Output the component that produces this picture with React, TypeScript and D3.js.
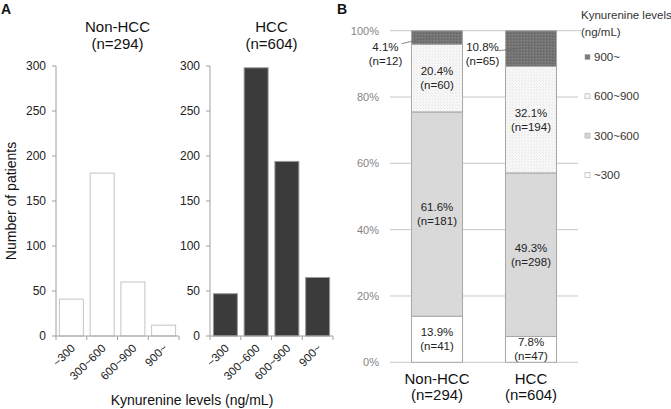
import React from "react";
import * as d3 from "d3";

const categories = ["~300", "300~600", "600~900", "900~"];
const nonHccCounts = [41, 181, 60, 12];
const hccCounts = [47, 298, 194, 65];
const groups = ["Non-HCC", "HCC"];
const groupN = [294, 604];
const nonHccPct = [13.9, 61.6, 20.4, 4.1];
const hccPct = [7.8, 49.3, 32.1, 10.8];
const yTicksA = [0, 50, 100, 150, 200, 250, 300];
const yTicksB = [0, 20, 40, 60, 80, 100];

const FONT = "'Liberation Sans', Arial, Helvetica, sans-serif";

export default function App() {
  const W = 671, H = 409;
  // Panel A
  const yA = d3.scaleLinear().domain([0, 300]).range([336, 66]);
  const panelsA = [
    { title: groups[0], n: groupN[0], counts: nonHccCounts, x0: 56, fill: "#ffffff", stroke: "#c4c4c4" },
    { title: groups[1], n: groupN[1], counts: hccCounts, x0: 210, fill: "#3b3b3b", stroke: "#9a9a9a" },
  ];
  // Panel B
  const yB = d3.scaleLinear().domain([0, 100]).range([362.3, 30.7]);
  const xB = d3.scaleBand().domain(groups).range([390, 578]).paddingInner(0.457).paddingOuter(0.2285);
  const rows = groups.map((g, i) => {
    const vals = i === 0 ? nonHccPct : hccPct;
    const r: any = { group: g };
    categories.forEach((c, j) => (r[c] = vals[j]));
    return r;
  });
  const stacked = d3.stack().keys(categories)(rows);
  const segFill = ["#ffffff", "#d9d9d9", "url(#pLight)", "url(#pDark)"];
  const legendFill = ["#ffffff", "#d4d4d4", "#f6f6f6", "#7a7a7a"];
  const countsByGroup = [nonHccCounts, hccCounts];

  return (
    <svg width={W} height={H} style={{ position: "absolute", left: 0, top: 0, background: "#fff" }} fontFamily={FONT}>
      <defs>
        <pattern id="pDark" width="3" height="3" patternUnits="userSpaceOnUse">
          <rect width="3" height="3" fill="#747474" />
          <rect x="0" y="0" width="1" height="1" fill="#626262" />
          <rect x="2" y="1" width="1" height="1" fill="#868686" />
        </pattern>
        <pattern id="pLight" width="3" height="3" patternUnits="userSpaceOnUse">
          <rect width="3" height="3" fill="#f7f7f7" />
          <rect x="0" y="0" width="1" height="1" fill="#e6e6e6" />
          <rect x="2" y="2" width="1" height="1" fill="#ececec" />
        </pattern>
      </defs>
      <rect width={W} height={H} fill="#fff" />

      {/* Panel labels */}
      <text x={1} y={13.5} fontSize={14} fontWeight="bold" fill="#111">A</text>
      <text x={337} y={13.5} fontSize={14} fontWeight="bold" fill="#111">B</text>

      {/* Panel A */}
      {panelsA.map((p, pi) => {
        const x = d3.scaleBand().domain(categories).range([p.x0, p.x0 + 123]).paddingInner(0.22).paddingOuter(0.11);
        const step = x.step();
        const cx = p.x0 + 61.5;
        return (
          <g key={pi}>
            <text x={cx} y={32} fontSize={15} textAnchor="middle" fill="#111">{p.title}</text>
            <text x={cx} y={48.5} fontSize={15} textAnchor="middle" fill="#111">{`(n=${p.n})`}</text>
            {p.counts.map((v, i) => (
              <rect key={i} x={x(categories[i])!} y={yA(v)} width={x.bandwidth()} height={yA(0) - yA(v)}
                fill={p.fill} stroke={p.stroke} strokeWidth={1} />
            ))}
            <line x1={p.x0} x2={p.x0} y1={yA(300)} y2={yA(0)} stroke="#a0a0a0" />
            <line x1={p.x0} x2={p.x0 + 123} y1={yA(0)} y2={yA(0)} stroke="#a0a0a0" />
            {yTicksA.map((t) => (
              <g key={t}>
                <line x1={p.x0 - 4} x2={p.x0} y1={yA(t)} y2={yA(t)} stroke="#a0a0a0" />
                <text x={p.x0 - 10} y={yA(t)} dy="0.35em" fontSize={12} textAnchor="end" fill="#222">{t}</text>
              </g>
            ))}
            {d3.range(categories.length + 1).map((k) => (
              <line key={k} x1={p.x0 + k * step} x2={p.x0 + k * step} y1={yA(0)} y2={yA(0) + 4} stroke="#a0a0a0" />
            ))}
            {categories.map((c) => {
              const tx = x(c)! + x.bandwidth() / 2 + 1.5;
              return (
                <text key={c} transform={`translate(${tx},${yA(0) + 10}) rotate(-45)`} fontSize={11.5} textAnchor="end" dy="0.35em" fill="#222">{c}</text>
              );
            })}
          </g>
        );
      })}
      <text transform={`translate(16,201) rotate(-90)`} fontSize={14} textAnchor="middle" fill="#111">Number of patients</text>
      <text x={192} y={405} fontSize={14} textAnchor="middle" fill="#111">Kynurenine levels (ng/mL)</text>

      {/* Panel B */}
      {yTicksB.map((t) => (
        <g key={t}>
          <line x1={390} x2={t === 100 ? 581 : 578} y1={yB(t)} y2={yB(t)} stroke="#c8c8c8" />
          <text x={379} y={yB(t)} dy="0.35em" fontSize={11} textAnchor="end" fill="#858585">{`${t}%`}</text>
        </g>
      ))}
      {stacked.map((layer, li) =>
        layer.map((d: any, gi) => (
          <rect key={`${li}-${gi}`} x={xB(groups[gi])!} width={xB.bandwidth()} y={yB(d[1])} height={yB(d[0]) - yB(d[1])}
            fill={segFill[li]} stroke="#a8a8a8" strokeWidth={1} />
        ))
      )}
      {stacked.map((layer, li) =>
        layer.map((d: any, gi) => {
          const n = countsByGroup[gi][li];
          const mid = (yB(d[0]) + yB(d[1])) / 2;
          const bx = xB(groups[gi])!;
          const bc = bx + xB.bandwidth() / 2;
          const label = `${(gi === 0 ? nonHccPct : hccPct)[li].toFixed(1)}%`;
          if (li === categories.length - 1) {
            const lx = gi === 0 ? bx - 26 : bx - 23;
            const l1 = yB(100) + 16;
            const sy = Math.max(l1 - 3, mid + 2);
            return (
              <g key={`l${li}-${gi}`}>
                <line x1={lx + 16} y1={sy} x2={bc - (gi === 0 ? 4 : 0)} y2={mid - 1} stroke="#6a6a6a" strokeWidth={0.8} />
                <text x={lx} y={l1} dy="0.35em" fontSize={11.5} textAnchor="middle" fill="#222">{label}</text>
                <text x={lx} y={l1 + 14} dy="0.35em" fontSize={11.5} textAnchor="middle" fill="#222">{`(n=${n})`}</text>
              </g>
            );
          }
          return (
            <g key={`l${li}-${gi}`}>
              <text x={bc} y={mid - 7} dy="0.35em" fontSize={11.5} textAnchor="middle" fill="#222">{label}</text>
              <text x={bc} y={mid + 7} dy="0.35em" fontSize={11.5} textAnchor="middle" fill="#222">{`(n=${n})`}</text>
            </g>
          );
        })
      )}
      {groups.map((g, gi) => (
        <g key={g}>
          <text x={xB(g)! + xB.bandwidth() / 2} y={384} fontSize={15} textAnchor="middle" fill="#111">{g}</text>
          <text x={xB(g)! + xB.bandwidth() / 2} y={400} fontSize={15} textAnchor="middle" fill="#111">{`(n=${groupN[gi]})`}</text>
        </g>
      ))}

      {/* Legend */}
      <text x={581} y={19} fontSize={11.5} fill="#333">Kynurenine levels</text>
      <text x={581} y={35.5} fontSize={11.5} fill="#333">(ng/mL)</text>
      {categories.slice().reverse().map((c, i) => {
        const idx = categories.length - 1 - i;
        const cy = 57 + i * 39.3;
        return (
          <g key={c}>
            <rect x={585} y={cy - 2.5} width={5} height={5} fill={legendFill[idx]} stroke="#aaa" strokeWidth={0.6} />
            <text x={594} y={cy} dy="0.35em" fontSize={11.5} fill="#333">{c}</text>
          </g>
        );
      })}
    </svg>
  );
}
